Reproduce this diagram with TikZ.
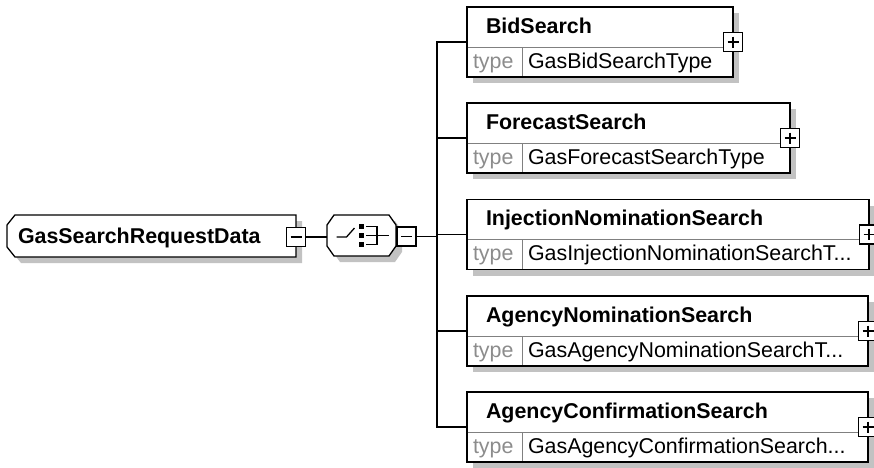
\documentclass[tikz,border=0pt]{standalone}
\usepackage{fontspec}
\setmainfont{Liberation Sans}
\usetikzlibrary{shadows,calc}
\newcommand\trdots{...}
\begin{document}
\begin{tikzpicture}[x=1pt,y=-1pt,
  every node/.style={inner sep=0pt, outer sep=0pt},
  shad/.style={drop shadow={shadow xshift=6pt, shadow yshift=-6pt, fill=black!24, opacity=1}},
  elem/.style={draw=black, line width=1.3pt, fill=white, shad},
  frame/.style={minimum width=#1, minimum height=70pt, anchor=north west},
  xbox/.style={draw=black, line width=1.2pt, fill=white, minimum width=19pt, minimum height=19pt},
  ttl/.style={font=\fontsize{21.4}{24}\selectfont\bfseries, anchor=base west},
  typ/.style={font=\fontsize{21.4}{24}\selectfont, anchor=base west},
  lbl/.style={typ, text=black!45},
  conn/.style={line width=1.3pt},
  sepl/.style={draw=black!50, line width=1pt, shorten <=0.7pt, shorten >=0.7pt},
  sq/.style={fill=black, minimum width=5pt, minimum height=5pt},
]
\useasboundingbox (0,0) rectangle (874,467);

% ---------- root element ----------
\node[minimum width=289pt, minimum height=42pt, anchor=north west] (root) at (7,215) {};
\draw[elem] ([xshift=8pt]root.north west) -- (root.north east) -- (root.south east)
  -- ([xshift=8pt]root.south west) -- ([yshift=10pt]root.south west)
  -- ([yshift=-10pt]root.north west) -- cycle;
\node[ttl] (roott) at ([xshift=11pt,yshift=-28pt]root.north west) {GasSearchRequestData};
\node[xbox] (rootm) at ([yshift=-1pt]root.east) {};
\draw[line width=1.2pt] ([xshift=4pt]rootm.west) -- ([xshift=-4pt]rootm.east);

% ---------- sequence compositor ----------
\node[minimum width=69pt, minimum height=41pt, anchor=north west] (seq) at (327,215) {};
\draw[elem] ([xshift=7pt]seq.north west) -- ([xshift=-7pt]seq.north east)
  -- ([yshift=-10pt]seq.north east) -- ([yshift=10pt]seq.south east)
  -- ([xshift=-7pt]seq.south east) -- ([xshift=7pt]seq.south west)
  -- ([yshift=10pt]seq.south west) -- ([yshift=-10pt]seq.north west) -- cycle;
\node[xbox] (seqm) at ([xshift=10.5pt,yshift=-1pt]seq.east) {};
\draw[line width=1.2pt] ([xshift=4pt]seqm.west) -- ([xshift=-4pt]seqm.east);
% sequence icon
\draw[line width=1.3pt] ([xshift=-25pt,yshift=-1.5pt]seq.center) -- ++(10,0) -- ++(8,-9);
\node[sq] (sq1) at ([xshift=0pt,yshift=9pt]seq.center) {};
\node[sq] (sq2) at ([xshift=0pt,yshift=0pt]seq.center) {};
\node[sq] (sq3) at ([xshift=0pt,yshift=-9pt]seq.center) {};
\draw[line width=1.3pt] ([xshift=2pt]sq1.east) -- ([xshift=13pt]sq1.east) -- ([xshift=13pt]sq3.east) -- ([xshift=2pt]sq3.east);
\draw[line width=1.3pt] ([xshift=2pt]sq2.east) -- ([xshift=25pt]sq2.east);

% ---------- children ----------
\node[elem, frame=266pt] (c1) at (467,7) {};
\node[elem, frame=323pt] (c2) at (467,103) {};
\node[elem, frame=402pt] (c3) at (467,199.5) {};
\node[elem, frame=401pt] (c4) at (467,296) {};
\node[elem, frame=401pt] (c5) at (467,392) {};

\foreach \c/\t/\v in {c1/BidSearch/GasBidSearchType,
                      c2/ForecastSearch/GasForecastSearchType,
                      c3/InjectionNominationSearch/GasInjectionNominationSearchT\trdots,
                      c4/AgencyNominationSearch/GasAgencyNominationSearchT\trdots,
                      c5/AgencyConfirmationSearch/GasAgencyConfirmationSearch\trdots}{
  \draw[sepl] ([yshift=-40pt]\c.north west) -- ([yshift=-40pt]\c.north east);
  \draw[sepl] ([xshift=55pt,yshift=-40pt]\c.north west) -- ([xshift=55pt]\c.south west);
  \node[ttl] (\c t) at ([xshift=19pt,yshift=-26pt]\c.north west) {\t};
  \node[lbl] (\c l) at ([xshift=6pt,yshift=-61pt]\c.north west) {type};
  \node[typ] (\c v) at ([xshift=61pt,yshift=-61pt]\c.north west) {\v};
  \node[xbox] (\c p) at (\c.east) {};
  \draw[line width=1.2pt] ([xshift=4pt]\c p.west) -- ([xshift=-4pt]\c p.east);
  \draw[line width=1.2pt] ([yshift=-4pt]\c p.north) -- ([yshift=4pt]\c p.south);
}

% ---------- connectors ----------
\coordinate (bus) at ([xshift=-30pt]c3.west);
\draw[conn] (rootm.east) -- (seq.west |- rootm.east);
\draw[conn] (seqm.east) -- (bus |- seqm.east);
\draw[conn] (c1.west) -- (c1.west -| bus) -- (c5.west -| bus) -- (c5.west);
\draw[conn] (c2.west) -- (c2.west -| bus);
\draw[conn] (c3.west) -- (c3.west -| bus);
\draw[conn] (c4.west) -- (c4.west -| bus);
\end{tikzpicture}
\end{document}
